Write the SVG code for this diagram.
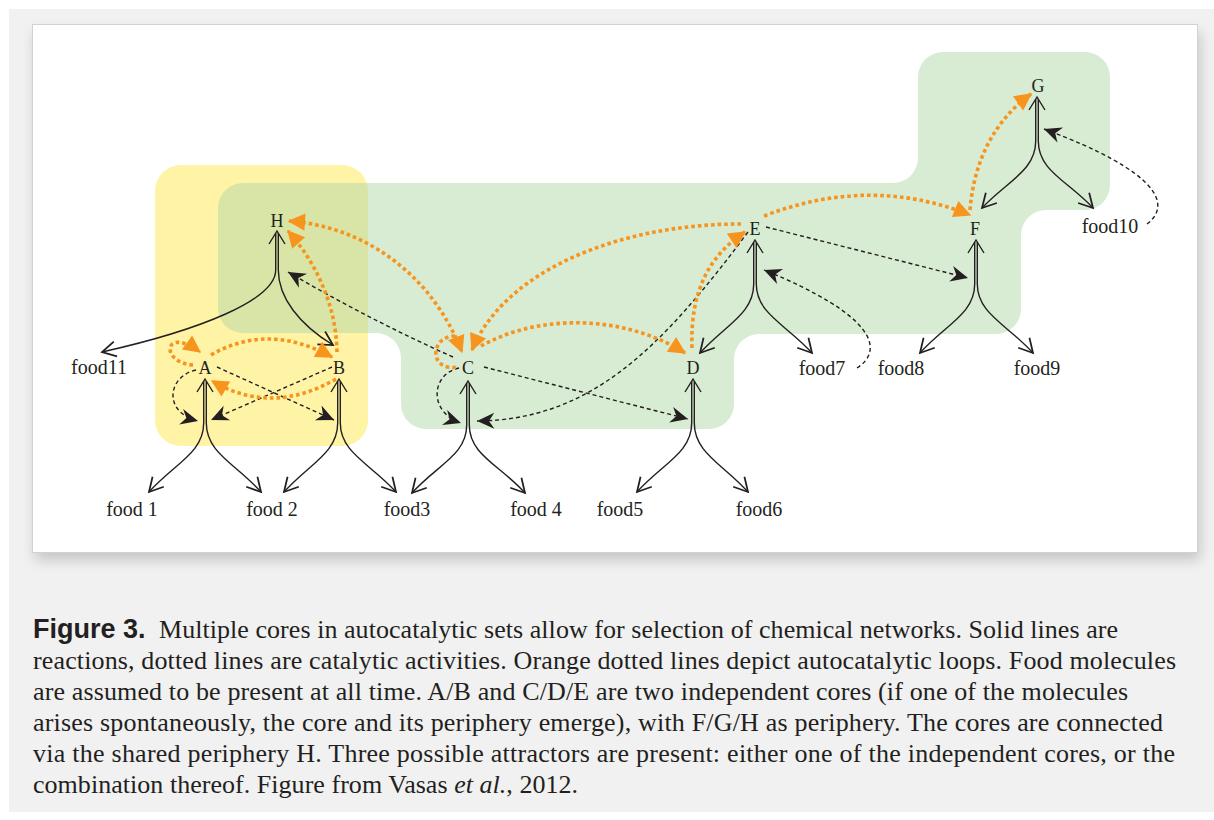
<svg xmlns="http://www.w3.org/2000/svg" width="1214" height="820" viewBox="0 0 1214 820">
<style>
.lbl{font-family:"Liberation Serif",serif;font-size:18px;fill:#231f20;text-anchor:middle}
.food{font-family:"Liberation Serif",serif;font-size:20px;fill:#231f20;text-anchor:middle}
.cap{font-family:"Liberation Serif",serif;font-size:26px;fill:#231f20}
.capb{font-family:"Liberation Sans",Arial,sans-serif;font-weight:bold;font-size:27px;fill:#231f20}
.rx{fill:none;stroke:#231f20;stroke-width:1.4}
.cat{fill:none;stroke:#231f20;stroke-width:1.4;stroke-dasharray:4 3;marker-end:url(#blk)}
.loop{fill:none;stroke:#f7941d;stroke-width:3.6;stroke-dasharray:3.6 3}
.lend{marker-end:url(#org)}
.lboth{marker-start:url(#org);marker-end:url(#org)}
</style>
<defs>
<filter id="sh" x="-5%" y="-5%" width="110%" height="120%"><feGaussianBlur stdDeviation="7"/></filter>
<marker id="chev" markerUnits="userSpaceOnUse" orient="auto" markerWidth="20" markerHeight="20" refX="0" refY="0" viewBox="-12 -8 14 16" overflow="visible"><path d="M -11 -6 L 0 0 L -11 6" fill="none" stroke="#231f20" stroke-width="1.4"/></marker>
<marker id="blk" markerUnits="userSpaceOnUse" orient="auto" markerWidth="20" markerHeight="20" refX="0" refY="0" viewBox="-14 -7 15 14" overflow="visible"><path d="M 0 0 L -13 -6 L -9 0 L -13 6 Z" fill="#231f20"/></marker>
<marker id="org" markerUnits="userSpaceOnUse" orient="auto-start-reverse" markerWidth="20" markerHeight="20" refX="0" refY="0" viewBox="-14 -7 15 14" overflow="visible"><path d="M 1 0 L -12 -6.5 L -12 6.5 Z" fill="#f7941d"/></marker>
</defs>
<rect x="0" y="0" width="1214" height="820" fill="#ffffff"/>
<rect x="9" y="9" width="1205" height="803" fill="#f1f1f1"/>
<rect x="35" y="32" width="1165" height="528" fill="#000" opacity="0.18" filter="url(#sh)"/>
<rect x="32.5" y="24.5" width="1165" height="528" fill="#ffffff" stroke="#d2d2d2" stroke-width="1"/>
<g id="regions">
<rect x="155" y="165" width="213" height="281" rx="26" fill="#fff3a6"/>
<path d="M 243 183 L 893 183 A 25 25 0 0 0 918 158 L 918 77 A 25 25 0 0 1 943 52 L 1085 52 A 25 25 0 0 1 1110 77 L 1110 185 A 25 25 0 0 1 1085 210 L 1046 210 A 25 25 0 0 0 1021 235 L 1021 309 A 25 25 0 0 1 996 334 L 759 334 A 25 25 0 0 0 734 359 L 734 404 A 25 25 0 0 1 709 429 L 426 429 A 25 25 0 0 1 401 404 L 401 358 A 25 25 0 0 0 376 333 L 243 333 A 25 25 0 0 1 218 308 L 218 208 A 25 25 0 0 1 243 183 Z" fill="#b1d7a7" opacity="0.5"/>
</g>
<g id="connectors">
<g id="reactions">
<path class="rx" d="M275.7 233 L275.7 270 C275.7 300 200 330 102 352" marker-end="url(#chev)"/>
<path class="rx" d="M278.3 233 L278.3 270 C278.3 298 300 325 333 345" marker-end="url(#chev)"/>
<path class="rx" d="M269 244 L277 231 L285 244"/>
<path class="rx" d="M203.7 381 L203.7 423 C203.7 453 174 464 149 492" marker-end="url(#chev)"/>
<path class="rx" d="M206.3 381 L206.3 423 C206.3 453 236 464 261 492" marker-end="url(#chev)"/>
<path class="rx" d="M197 392 L205 379 L213 392"/>
<path class="rx" d="M337.7 381 L337.7 423 C337.7 453 309 464 284 492" marker-end="url(#chev)"/>
<path class="rx" d="M340.3 381 L340.3 423 C340.3 453 371 464 396 492" marker-end="url(#chev)"/>
<path class="rx" d="M331 392 L339 379 L347 392"/>
<path class="rx" d="M466.7 383 L466.7 425 C466.7 455 437 465 412 493" marker-end="url(#chev)"/>
<path class="rx" d="M469.3 383 L469.3 425 C469.3 455 500 465 525 493" marker-end="url(#chev)"/>
<path class="rx" d="M460 394 L468 381 L476 394"/>
<path class="rx" d="M691.7 381 L691.7 423 C691.7 453 662 464 637 492" marker-end="url(#chev)"/>
<path class="rx" d="M694.3 381 L694.3 423 C694.3 453 723 464 748 492" marker-end="url(#chev)"/>
<path class="rx" d="M685 392 L693 379 L701 392"/>
<path class="rx" d="M753.7 242 L753.7 284 C753.7 314 725 325 700 353" marker-end="url(#chev)"/>
<path class="rx" d="M756.3 242 L756.3 284 C756.3 314 787 325 812 353" marker-end="url(#chev)"/>
<path class="rx" d="M747 253 L755 240 L763 253"/>
<path class="rx" d="M974.7 242 L974.7 284 C974.7 314 945 325 920 353" marker-end="url(#chev)"/>
<path class="rx" d="M977.3 242 L977.3 284 C977.3 314 1008 325 1033 353" marker-end="url(#chev)"/>
<path class="rx" d="M968 253 L976 240 L984 253"/>
<path class="rx" d="M1035.7 99 L1035.7 141 C1035.7 171 1007 181 982 208" marker-end="url(#chev)"/>
<path class="rx" d="M1038.3 99 L1038.3 141 C1038.3 171 1068 181 1093 208" marker-end="url(#chev)"/>
<path class="rx" d="M1029 110 L1037 97 L1045 110"/>
</g>
<g id="catalysis">
<path class="cat" d="M 196 370 C 168 376 162 412 198 421"/>
<path class="cat" d="M 217 367 L 334 420"/>
<path class="cat" d="M 332 367 L 211 420"/>
<path class="cat" d="M 459 368 C 431 374 428 412 461 423"/>
<path class="cat" d="M 453 357 Q 370 320 288 272"/>
<path class="cat" d="M 484 367 L 688 419"/>
<path class="cat" d="M 748 232 C 660 350 590 420 477 421"/>
<path class="cat" d="M 766 227 L 968 278"/>
<path class="cat" d="M 857 368 C 885 350 875 315 764 270"/>
<path class="cat" d="M 1147 224 C 1172 205 1160 172 1044 129"/>
</g>
<g id="loops">
<path class="loop lend" d="M 193 365 C 160 363 163 325 200 352"/>
<path class="loop lend" d="M 211 355 Q 268 322 332 357"/>
<path class="loop lend" d="M 336 379 Q 272 416 212 381"/>
<path class="loop lend" d="M 337 352 C 336 300 312 258 288 231"/>
<path class="loop lboth" d="M 289 221 C 360 226 430 270 462 352"/>
<path class="loop" d="M 455 336 C 430 336 428 372 458 367"/>
<path class="loop lend" d="M 481 346 C 540 313 625 315 685 353"/>
<path class="loop lend" d="M 692 348 C 690 290 710 255 745 232"/>
<path class="loop lend" d="M 741 224 C 620 224 505 270 472 350"/>
<path class="loop lend" d="M 764 216 Q 870 175 970 215"/>
<path class="loop lend" d="M 970 210 C 974 160 995 120 1031 94"/>
</g>
</g>
<g id="node-H"><text class="lbl" x="277" y="227">H</text></g>
<g id="node-A"><text class="lbl" x="205" y="374">A</text></g>
<g id="node-B"><text class="lbl" x="339" y="374">B</text></g>
<g id="node-C"><text class="lbl" x="468" y="374">C</text></g>
<g id="node-D"><text class="lbl" x="693" y="374">D</text></g>
<g id="node-E"><text class="lbl" x="755" y="235">E</text></g>
<g id="node-F"><text class="lbl" x="975" y="235">F</text></g>
<g id="node-G"><text class="lbl" x="1038" y="92">G</text></g>
<g id="food">
<text class="food" x="132" y="516">food 1</text>
<text class="food" x="272" y="516">food 2</text>
<text class="food" x="407" y="516">food3</text>
<text class="food" x="536" y="516">food 4</text>
<text class="food" x="620" y="516">food5</text>
<text class="food" x="759" y="516">food6</text>
<text class="food" x="822" y="375">food7</text>
<text class="food" x="901" y="375">food8</text>
<text class="food" x="1037" y="375">food9</text>
<text class="food" x="1110" y="233">food10</text>
<text class="food" x="99" y="374">food11</text>
</g>
<g id="caption">
<text class="capb" x="33" y="638">Figure 3.</text>
<text class="cap" x="159" y="638" textLength="959" lengthAdjust="spacing">Multiple cores in autocatalytic sets allow for selection of chemical networks. Solid lines are</text>
<text class="cap" x="33" y="669" textLength="1143" lengthAdjust="spacing">reactions, dotted lines are catalytic activities. Orange dotted lines depict autocatalytic loops. Food molecules</text>
<text class="cap" x="33" y="700" textLength="1095" lengthAdjust="spacing">are assumed to be present at all time. A/B and C/D/E are two independent cores (if one of the molecules</text>
<text class="cap" x="33" y="731" textLength="1130" lengthAdjust="spacing">arises spontaneously, the core and its periphery emerge), with F/G/H as periphery. The cores are connected</text>
<text class="cap" x="33" y="762" textLength="1142" lengthAdjust="spacing">via the shared periphery H. Three possible attractors are present: either one of the independent cores, or the</text>
<text class="cap" x="33" y="793" textLength="545" lengthAdjust="spacing">combination thereof. Figure from Vasas <tspan font-style="italic">et al.</tspan>, 2012.</text>
</g>
</svg>
